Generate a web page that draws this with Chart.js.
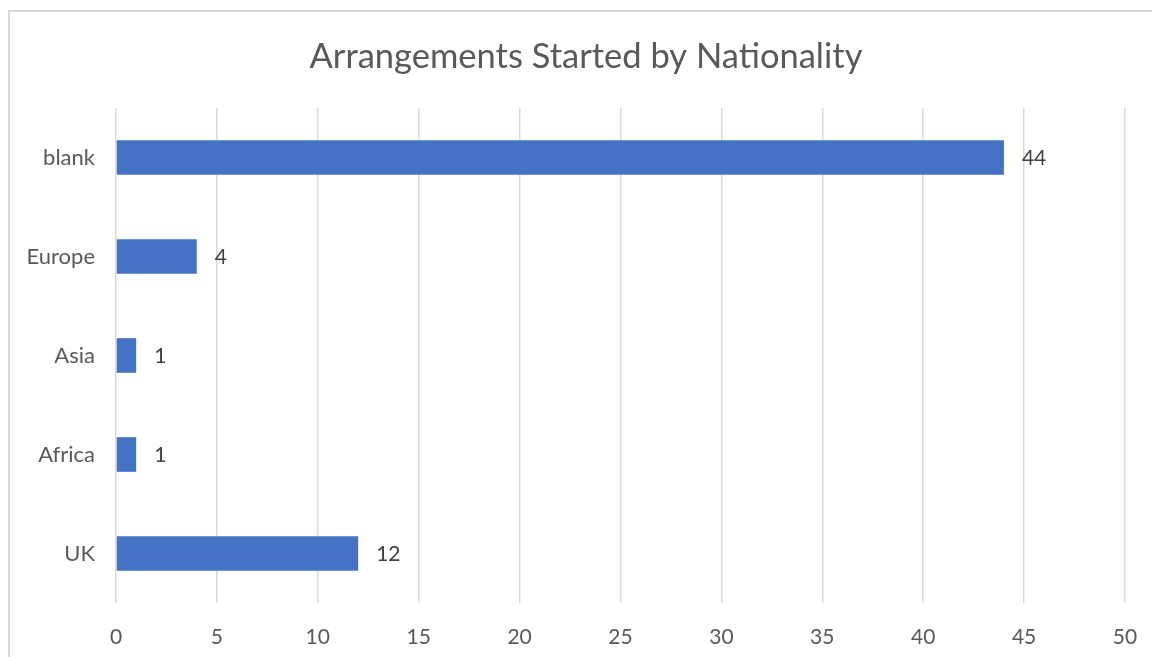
<!DOCTYPE html>
<html>
<head>
<meta charset="utf-8">
<script src="https://cdn.jsdelivr.net/npm/chart.js@4/dist/chart.umd.min.js"></script>
<style>
html,body{margin:0;padding:0;background:#fff;}
#wrap{position:relative;width:1152px;height:657px;}
</style>
</head>
<body>
<div id="wrap"><canvas id="c" width="1152" height="657"></canvas></div>
<script>
const categories = ["blank", "Europe", "Asia", "Africa", "UK"];
const values = [44, 4, 1, 1, 12];
const xTicks = [0, 5, 10, 15, 20, 25, 30, 35, 40, 45, 50];
const titleText = "Arrangements Started by Nationality";

const FONT = "Lato, 'Open Sans', sans-serif";

const framePlugin = {
  id: 'frame',
  beforeDraw(chart) {
    const ctx = chart.ctx;
    ctx.save();
    ctx.fillStyle = '#ffffff';
    ctx.fillRect(0, 0, chart.width, chart.height);
    ctx.strokeStyle = '#d9d9d9';
    ctx.lineWidth = 2;
    ctx.strokeRect(9, 11, 1300, 800);
    ctx.restore();
  },
  afterDraw(chart) {
    const ctx = chart.ctx;
    ctx.save();
    ctx.font = "34.5px " + FONT;
    ctx.fillStyle = '#595959';
    ctx.textAlign = 'center';
    ctx.textBaseline = 'middle';
    ctx.fillText(titleText, 586, 57);
    ctx.restore();
  }
};

const labelPlugin = {
  id: 'barLabels',
  afterDatasetsDraw(chart) {
    const ctx = chart.ctx;
    const meta = chart.getDatasetMeta(0);
    ctx.save();
    ctx.font = "21px " + FONT;
    ctx.fillStyle = '#404040';
    ctx.textAlign = 'left';
    ctx.textBaseline = 'middle';
    meta.data.forEach((bar, i) => {
      ctx.fillText(String(values[i]), bar.x + 18, bar.y + 1);
    });
    ctx.restore();
  }
};

new Chart(document.getElementById('c'), {
  type: 'bar',
  data: {
    labels: categories,
    datasets: [{
      data: values,
      backgroundColor: '#4472C4',
      borderWidth: 0,
      categoryPercentage: 0.7,
      barPercentage: 0.5
    }]
  },
  options: {
    indexAxis: 'y',
    responsive: false,
    animation: false,
    devicePixelRatio: 1,
    layout: { padding: { left: 0, right: 27, top: 108, bottom: 0 } },
    plugins: {
      legend: { display: false },
      tooltip: { enabled: false },
      title: { display: false }
    },
    scales: {
      x: {
        min: 0,
        max: 50,
        afterBuildTicks(scale) { scale.ticks = xTicks.map(v => ({ value: v })); },
        afterFit(scale) { scale.height = 54; },
        grid: { color: '#d9d9d9', lineWidth: 1.5, drawTicks: true, tickLength: 22, tickColor: 'rgba(0,0,0,0)' },
        border: { display: false },
        ticks: { color: '#595959', font: { family: FONT, size: 21 }, padding: 0, maxRotation: 0 }
      },
      y: {
        afterFit(scale) { scale.width = 116; },
        grid: { display: true, drawOnChartArea: false, color: 'rgba(0,0,0,0)', drawTicks: true, tickLength: 21, tickColor: 'rgba(0,0,0,0)' },
        border: { display: false },
        ticks: { color: '#595959', font: { family: FONT, size: 22 }, padding: 0 }
      }
    }
  },
  plugins: [framePlugin, labelPlugin]
});
</script>
</body>
</html>
